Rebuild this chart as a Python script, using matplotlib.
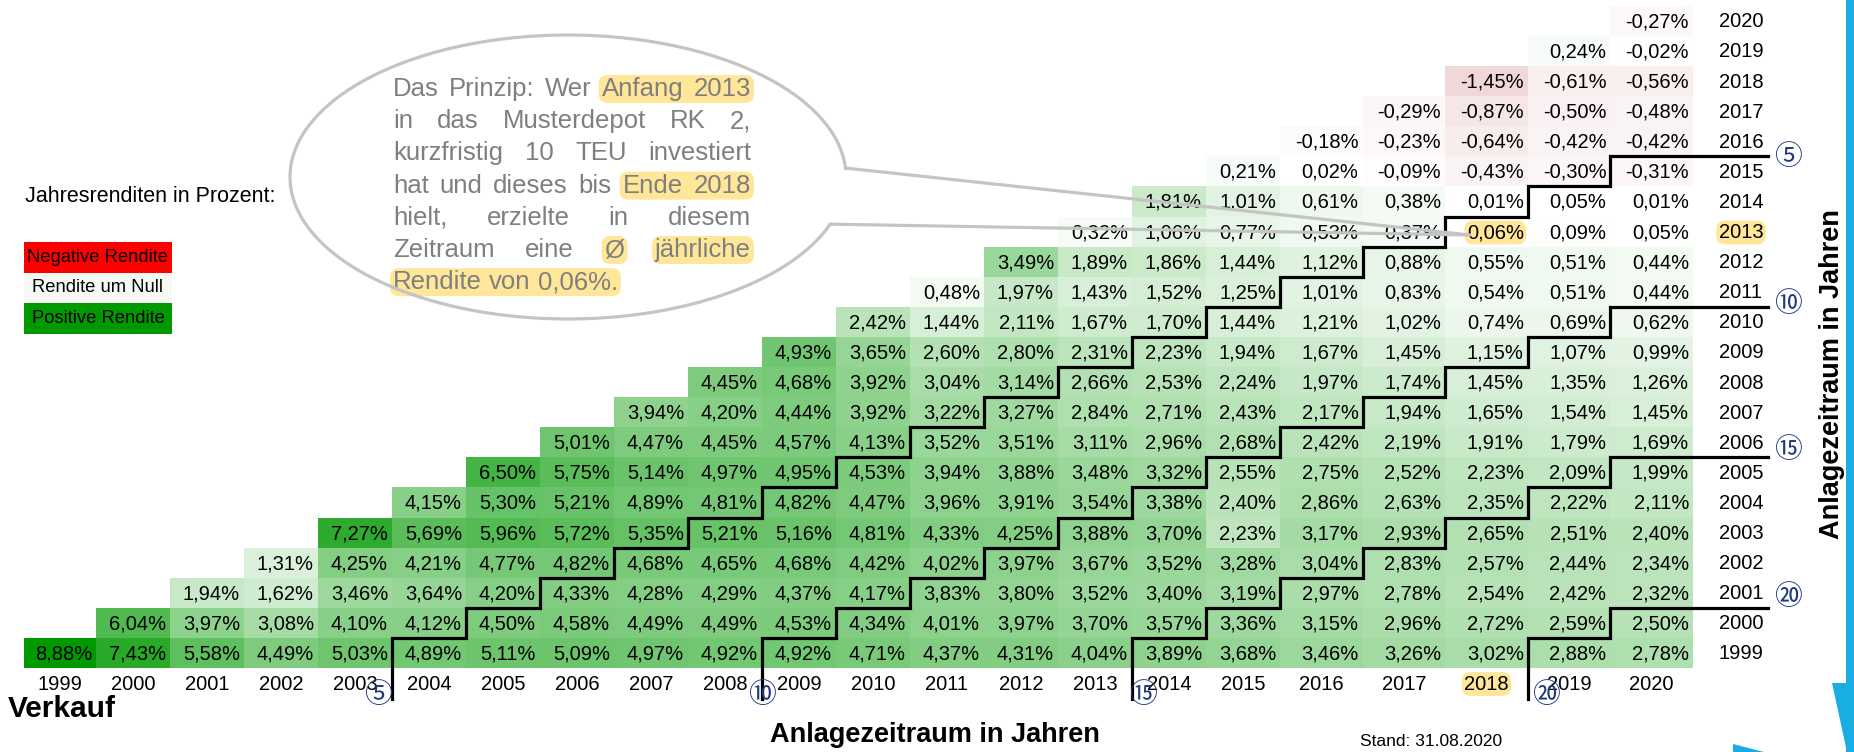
import matplotlib
matplotlib.use("Agg")
import matplotlib.pyplot as plt
import numpy as np
from matplotlib.colors import LinearSegmentedColormap, TwoSlopeNorm
from matplotlib.patches import Rectangle, FancyBboxPatch, Ellipse, Polygon

plt.rcParams['font.family'] = ['Liberation Sans', 'DejaVu Sans']

# ---------------- data ----------------
years = list(range(1999, 2021))
ret_1999 = [8.88, 7.43, 5.58, 4.49, 5.03, 4.89, 5.11, 5.09, 4.97, 4.92, 4.92, 4.71, 4.37, 4.31, 4.04, 3.89, 3.68, 3.46, 3.26, 3.02, 2.88, 2.78]
ret_2000 = [6.04, 3.97, 3.08, 4.10, 4.12, 4.50, 4.58, 4.49, 4.49, 4.53, 4.34, 4.01, 3.97, 3.70, 3.57, 3.36, 3.15, 2.96, 2.72, 2.59, 2.50]
ret_2001 = [1.94, 1.62, 3.46, 3.64, 4.20, 4.33, 4.28, 4.29, 4.37, 4.17, 3.83, 3.80, 3.52, 3.40, 3.19, 2.97, 2.78, 2.54, 2.42, 2.32]
ret_2002 = [1.31, 4.25, 4.21, 4.77, 4.82, 4.68, 4.65, 4.68, 4.42, 4.02, 3.97, 3.67, 3.52, 3.28, 3.04, 2.83, 2.57, 2.44, 2.34]
ret_2003 = [7.27, 5.69, 5.96, 5.72, 5.35, 5.21, 5.16, 4.81, 4.33, 4.25, 3.88, 3.70, 2.23, 3.17, 2.93, 2.65, 2.51, 2.40]
ret_2004 = [4.15, 5.30, 5.21, 4.89, 4.81, 4.82, 4.47, 3.96, 3.91, 3.54, 3.38, 2.40, 2.86, 2.63, 2.35, 2.22, 2.11]
ret_2005 = [6.50, 5.75, 5.14, 4.97, 4.95, 4.53, 3.94, 3.88, 3.48, 3.32, 2.55, 2.75, 2.52, 2.23, 2.09, 1.99]
ret_2006 = [5.01, 4.47, 4.45, 4.57, 4.13, 3.52, 3.51, 3.11, 2.96, 2.68, 2.42, 2.19, 1.91, 1.79, 1.69]
ret_2007 = [3.94, 4.20, 4.44, 3.92, 3.22, 3.27, 2.84, 2.71, 2.43, 2.17, 1.94, 1.65, 1.54, 1.45]
ret_2008 = [4.45, 4.68, 3.92, 3.04, 3.14, 2.66, 2.53, 2.24, 1.97, 1.74, 1.45, 1.35, 1.26]
ret_2009 = [4.93, 3.65, 2.60, 2.80, 2.31, 2.23, 1.94, 1.67, 1.45, 1.15, 1.07, 0.99]
ret_2010 = [2.42, 1.44, 2.11, 1.67, 1.70, 1.44, 1.21, 1.02, 0.74, 0.69, 0.62]
ret_2011 = [0.48, 1.97, 1.43, 1.52, 1.25, 1.01, 0.83, 0.54, 0.51, 0.44]
ret_2012 = [3.49, 1.89, 1.86, 1.44, 1.12, 0.88, 0.55, 0.51, 0.44]
ret_2013 = [0.32, 1.06, 0.77, 0.53, 0.37, 0.06, 0.09, 0.05]
ret_2014 = [1.81, 1.01, 0.61, 0.38, 0.01, 0.05, 0.01]
ret_2015 = [0.21, 0.02, -0.09, -0.43, -0.30, -0.31]
ret_2016 = [-0.18, -0.23, -0.64, -0.42, -0.42]
ret_2017 = [-0.29, -0.87, -0.50, -0.48]
ret_2018 = [-1.45, -0.61, -0.56]
ret_2019 = [0.24, -0.02]
ret_2020 = [-0.27]
rows = [ret_1999, ret_2000, ret_2001, ret_2002, ret_2003, ret_2004, ret_2005, ret_2006,
        ret_2007, ret_2008, ret_2009, ret_2010, ret_2011, ret_2012, ret_2013, ret_2014,
        ret_2015, ret_2016, ret_2017, ret_2018, ret_2019, ret_2020]
periods = [5, 10, 15, 20]
example_start, example_end = 2013, 2018

# ---------------- figure ----------------
W, H = 1854, 752
fig = plt.figure(figsize=(W / 100, H / 100), dpi=100)
ax = fig.add_axes([0, 0, 1, 1])
ax.set_xlim(0, W)
ax.set_ylim(H, 0)
ax.axis('off')

n = len(years)
col_w = [72] + [74] * 16 + [82.6] * 5
xe = 24 + np.concatenate([[0], np.cumsum(col_w)])
row_h = 30.1
ye = 668 - row_h * np.arange(n + 1)

M = np.full((n, n), np.nan)
for i, r in enumerate(rows):
    M[i, i:i + len(r)] = r
vmax = np.nanmax(M)
cmap = LinearSegmentedColormap.from_list(
    'rg', [(0, (0.63, 0.04, 0.04)), (0.5, (1, 1, 1)), (1, (0.0, 0.6, 0.0))])
norm = TwoSlopeNorm(vmin=-vmax, vcenter=0, vmax=vmax)
ax.pcolormesh(xe, ye, np.ma.masked_invalid(M), cmap=cmap, norm=norm, zorder=1)

hl = '#FFE699'
hbox = dict(boxstyle='round,pad=0.12,rounding_size=0.45', fc=hl, ec='none')
cell_fs = 14.5
for i in range(n):
    yc = (ye[i] + ye[i + 1]) / 2 + 1
    for j in range(i, n):
        s = f"{M[i, j]:.2f}".replace('.', ',') + '%'
        kw = {}
        if years[i] == example_start and years[j] == example_end:
            kw['bbox'] = hbox
        ax.text(xe[j + 1] - 4, yc, s, ha='right', va='center', fontsize=cell_fs, zorder=4, **kw)
    kw = {'bbox': hbox} if years[i] == example_start else {}
    ax.text(1741, yc, str(years[i]), ha='center', va='center', fontsize=14.5, zorder=4, **kw)

for j in range(n):
    kw = {'bbox': hbox} if years[j] == example_end else {}
    ax.text((xe[j] + xe[j + 1]) / 2, 684, str(years[j]), ha='center', va='center',
            fontsize=14.5, zorder=4, **kw)

# staircase lines
circ = {5: '⑤', 10: '⑩', 15: '⑮', 20: '⑳'}
bot_dx = {5: -14, 10: 0, 15: 11, 20: 18}
right_dy = {5: 1, 10: -3, 15: -7, 20: -11}
for N in periods:
    xs = [xe[N]]
    ys = [699]
    for i in range(0, n - N):
        xs += [xe[i + N], xe[i + N]]
        ys += [ye[i], ye[i + 1]]
        xn = xe[i + N + 1] if i + N + 1 < n else 1768
        xs += [xn]
        ys += [ye[i + 1]]
    ax.plot(xs, ys, color='black', lw=2.3, solid_joinstyle='miter', zorder=5)
    cf = dict(fontsize=20, color='#1F3A7A', ha='center', va='center', zorder=6,
              family=['Noto Sans CJK JP', 'DejaVu Sans'])
    ax.text(xe[N] + bot_dx[N], 695, circ[N], **cf)
    ax.text(1788, ye[n - N] + right_dy[N], circ[N], **cf)

# axis titles and notes
ax.text(8, 709, 'Verkauf', fontsize=21.5, fontweight='bold', ha='left', va='center')
ax.text(935, 735, 'Anlagezeitraum in Jahren', fontsize=19.5, fontweight='bold', ha='center', va='center')
ax.text(1832, 374, 'Anlagezeitraum in Jahren', fontsize=19.5, fontweight='bold', ha='center',
        va='center', rotation=90)
ax.text(1431, 741, 'Stand: 31.08.2020', fontsize=12.5, ha='center', va='center')

# legend
ax.text(25, 196, 'Jahresrenditen in Prozent:', fontsize=15.5, ha='left', va='center')
leg = [('Negative Rendite', '#FF0000', 242), ('Rendite um Null', '#F7FAF4', 272.5),
       ('Positive Rendite', '#009900', 303)]
for lab, colr, y0 in leg:
    ax.add_patch(Rectangle((24, y0), 148, 30.5, fc=colr, ec='none', zorder=2))
    ax.text(98, y0 + 15.5, lab, fontsize=13.2, ha='center', va='center', zorder=3)

# speech bubble
cx, cy, a, b = 568, 177, 278, 142
ax.add_patch(Ellipse((cx, cy), 2 * a, 2 * b, fc='white', ec='none', zorder=0.5))
ts = np.deg2rad(np.linspace(-3.6, -340.6, 400))
bx = list(cx + a * np.cos(ts)) + [1470, cx + a * np.cos(ts[0])]
by = list(cy + b * np.sin(ts)) + [235, cy + b * np.sin(ts[0])]
ax.plot(bx, by, color='#C4C4C4', lw=2.3, zorder=7, solid_joinstyle='round')

lines = [
    [('Das', 0), ('Prinzip:', 0), ('Wer', 0), ('Anfang', 1), ('2013', 1)],
    [('in', 0), ('das', 0), ('Musterdepot', 0), ('RK', 0), ('2,', 0)],
    [('kurzfristig', 0), ('10', 0), ('TEU', 0), ('investiert', 0)],
    [('hat', 0), ('und', 0), ('dieses', 0), ('bis', 0), ('Ende', 1), ('2018', 1)],
    [('hielt,', 0), ('erzielte', 0), ('in', 0), ('diesem', 0)],
    [('Zeitraum', 0), ('eine', 0), ('Ø', 1), ('jährliche', 2)],
    [('Rendite', 1), ('von', 1), ('0,06%.', 1)],
]
fs_b = 18.5
renderer = fig.canvas.get_renderer()


def twidth(s):
    t = ax.text(0, 0, s, fontsize=fs_b)
    w = t.get_window_extent(renderer=renderer).width
    t.remove()
    return w


space = twidth('a b') - twidth('ab')
left, right = 393, 751
for li, words in enumerate(lines):
    y = 89 + 32.2 * li
    ws = [twidth(w) for w, _ in words]
    if li < len(lines) - 1:
        gap = (right - left - sum(ws)) / (len(words) - 1)
    else:
        gap = space
    x = left
    pos = []
    for (w, g), wd in zip(words, ws):
        pos.append((x, x + wd, g))
        ax.text(x, y, w, fontsize=fs_b, color='#7F7F7F', ha='left', va='center', zorder=3)
        x += wd + gap
    groups = {}
    for x0, x1, g in pos:
        if g:
            groups.setdefault(g, [x0, x1])
            groups[g][1] = x1
    for g, (x0, x1) in groups.items():
        ax.add_patch(FancyBboxPatch((x0 - 3, y - 14), x1 - x0 + 6, 28,
                                    boxstyle='round,pad=0,rounding_size=9',
                                    fc=hl, ec='none', zorder=2))

# blue decoration at right edge
blue = '#1AADE3'
ax.add_patch(Polygon([(1846, 0), (1854, 0), (1854, 752), (1846, 752)], closed=True,
                     fc=blue, ec='none', zorder=8))
ax.add_patch(Polygon([(1832, 683), (1854, 683), (1854, 752), (1847, 752)], closed=True,
                     fc=blue, ec='none', zorder=8))
ax.add_patch(Polygon([(1733, 744), (1764, 752), (1733, 752)], closed=True,
                     fc=blue, ec='none', zorder=8))

fig.savefig('out.png', dpi=100)
